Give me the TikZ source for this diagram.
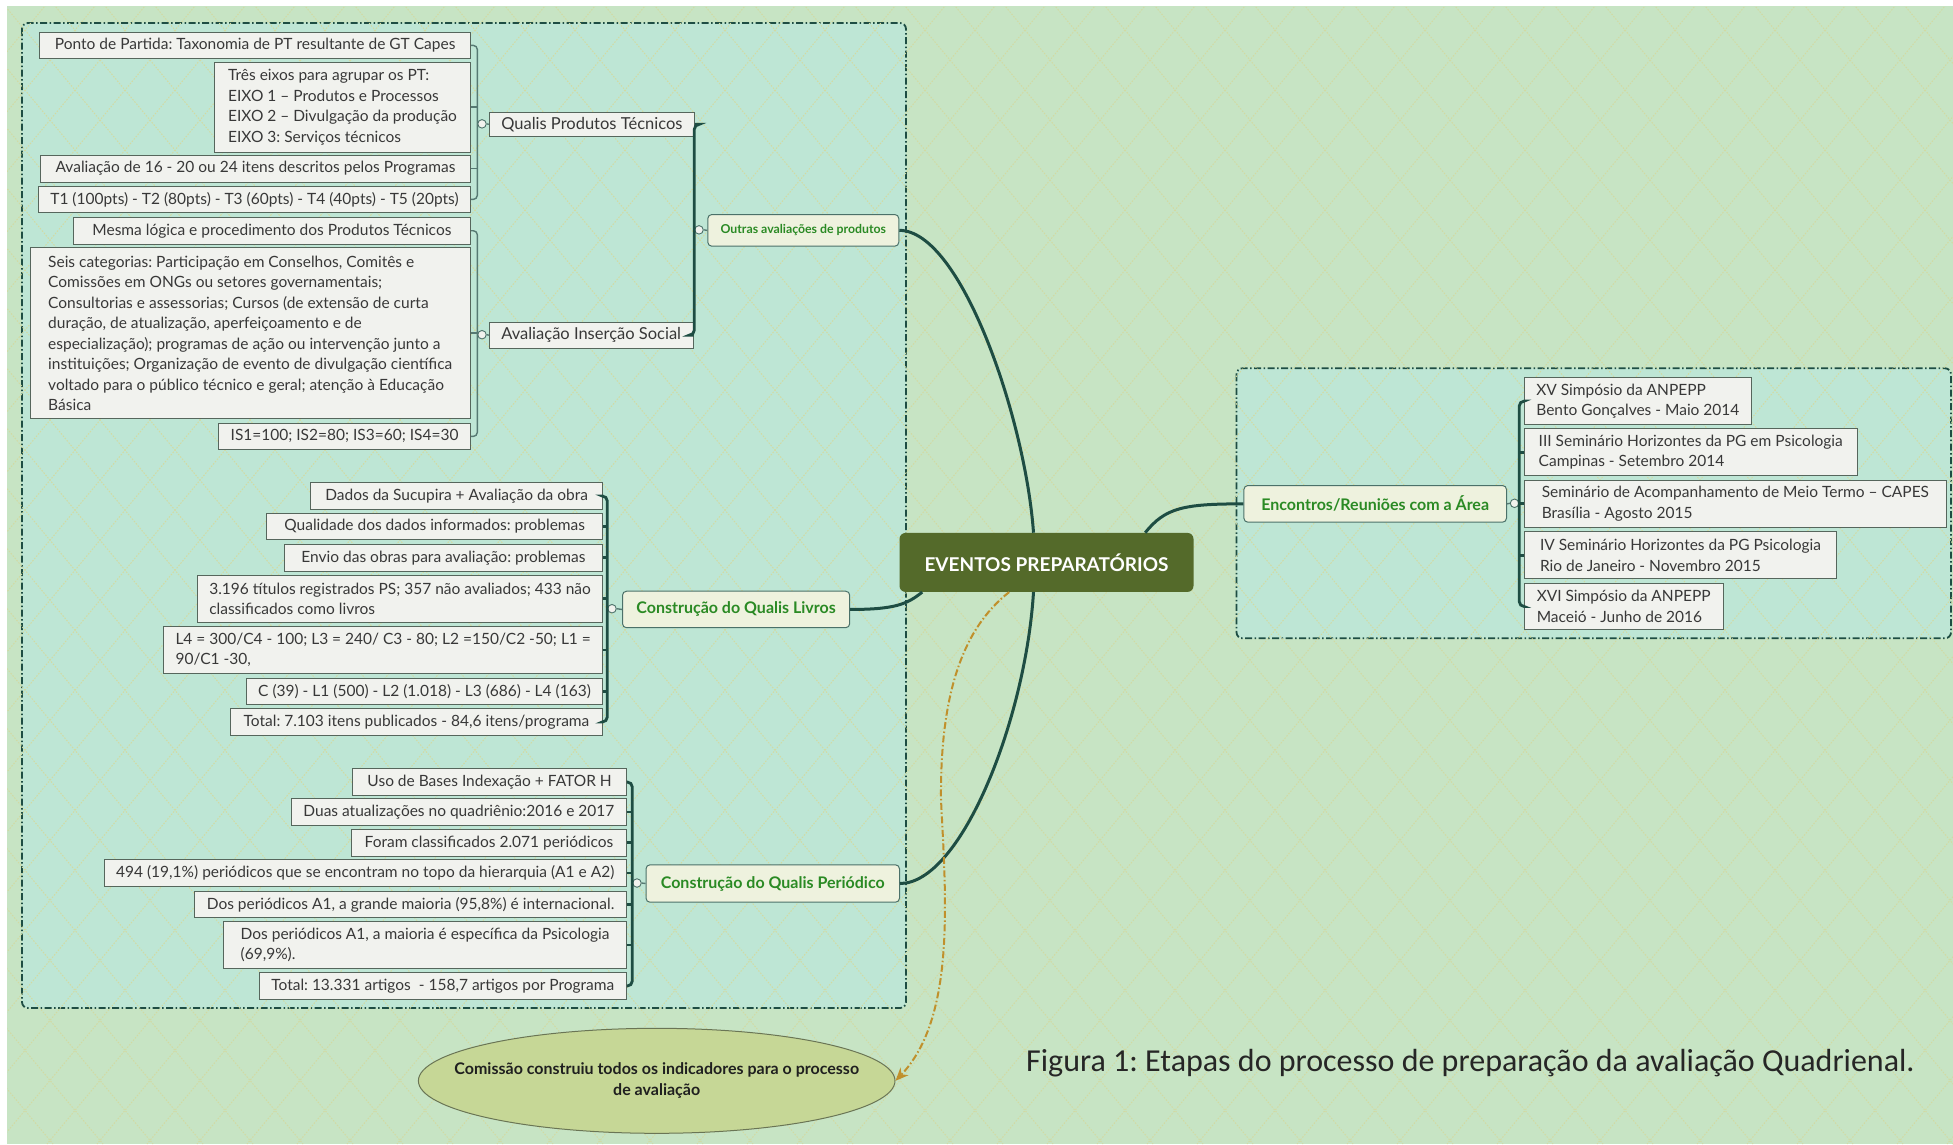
\documentclass[tikz,border=0pt]{standalone}
\usepackage{fontspec}
\setmainfont{Lato}
\newfontfamily\capfont{Carlito}
\usetikzlibrary{shapes.geometric, arrows.meta}

\definecolor{bggreen}{HTML}{C7E4C4}
\definecolor{boxmint}{HTML}{BEE6D5}
\definecolor{weaveclr}{HTML}{D2DAA2}
\definecolor{trunk}{HTML}{1E4D43}
\definecolor{olive}{HTML}{546A2A}
\definecolor{leafgray}{HTML}{F1F2EE}
\definecolor{leafedge}{HTML}{56665C}
\definecolor{topicfill}{HTML}{EEF2DE}
\definecolor{topicgreen}{HTML}{2A8A24}
\definecolor{ochre}{HTML}{C0902C}
\definecolor{ellfill}{HTML}{C6D796}

\begin{document}
\frenchspacing
\begin{tikzpicture}[x=1pt, y=-1pt,
        leaf/.style={draw=leafedge, fill=leafgray, line width=0.9pt, text=black!78, font=\fontsize{15.5}{20.5}\selectfont, inner xsep=12pt, inner ysep=0pt, minimum height=26.5pt, anchor=north east},
        leafr/.style={leaf, anchor=north west, align=left, minimum height=46.7pt},
        branch/.style={leaf, font=\fontsize{16.5}{20}\selectfont, anchor=north west, minimum width=201pt},
        topic/.style={draw=trunk!80, fill=topicfill, line width=1pt, rounded corners=4pt, text=topicgreen, font=\bfseries\fontsize{16}{20}\selectfont, inner xsep=8pt, minimum height=36.5pt, anchor=north west},
        group/.style={draw=trunk, line width=1.8pt, fill=boxmint, rounded corners=6pt, dash pattern=on 7pt off 2.5pt on 1.5pt off 2.5pt},
        weave/.style={draw=weaveclr, line width=1pt, dash pattern=on 1.5pt off 1.5pt},
        knob/.style={circle, draw=trunk!80, fill=leafgray, line width=0.9pt, inner sep=0pt, minimum size=8.5pt},
        twig/.style={draw=trunk!75, line width=1.4pt, rounded corners=4pt},
        bough/.style={draw=trunk, line width=2.8pt, rounded corners=5pt},
        limb/.style={draw=trunk, line width=3pt},
        ]

    \useasboundingbox [fill=white] (0, 0) rectangle (1953, 1144);
    \fill [bggreen] (7, 6) rectangle (1953, 1144);

    \path [group] (22, 23) rectangle (906, 1008);
    \path [group] (1236.5, 368.3) rectangle (1951, 638.3);

    \begin{scope}
        \clip (7, 6) rectangle (1953, 1144);
        \foreach \k in {-20, ..., 60} {
            \draw [weave] (50*\k, 0) -- ++(953, 1144);
            \draw [weave] (50*\k, 0) -- ++(-953, 1144);
        }
    \end{scope}

    \node (root) at (899.3, 532.7) [anchor=north west, fill=olive, rounded corners=6pt, minimum width=294pt, minimum height=59pt, text=white, font=\bfseries\fontsize{19}{22}\selectfont] {EVENTOS PREPARATÓRIOS};

    \node (outras) at (707.3, 214) [topic, minimum width=191pt, minimum height=31.7pt, font=\bfseries\fontsize{12.3}{14}\selectfont] {Outras avaliações de produtos};
    \node (livros) at (622, 590.7) [topic, minimum width=227.2pt] {Construção do Qualis Livros};
    \node (period) at (645.5, 864.3) [topic, minimum width=253.5pt, minimum height=37.4pt] {Construção do Qualis Periódico};
    \node (enc) at (1243.4, 485) [topic, minimum width=262.6pt, minimum height=36.7pt] {Encontros/Reuniões com a Área};

    \node (qpt) at (488.8, 111.7) [branch, minimum height=24.3pt] {Qualis Produtos Técnicos};
    \node (ins) at (488.8, 321.7) [branch, minimum height=26pt] {Avaliação Inserção Social};

    \node (ponto) at (471, 31.7) [leaf, minimum width=430.8pt] {Ponto de Partida: Taxonomia de PT resultante de GT Capes};
    \node (tres) at (471, 61.7) [leaf, minimum width=256pt, minimum height=90pt, align=left] {Três eixos para agrupar os PT:\\EIXO 1 – Produtos e Processos\\EIXO 2 – Divulgação da produção\\EIXO 3: Serviços técnicos};
    \node (av16) at (471, 155) [leaf, minimum width=430pt] {Avaliação de 16 - 20 ou 24 itens descritos pelos Programas};
    \node (tone) at (471, 185.7) [leaf, minimum width=422.8pt] {T1 (100pts) - T2 (80pts) - T3 (60pts) - T4 (40pts) - T5 (20pts)};
    \node (mesma) at (471, 217) [leaf, minimum width=397.3pt] {Mesma lógica e procedimento dos Produtos Técnicos};
    \node (seis) at (471, 247) [leaf, minimum width=440.6pt, minimum height=171.3pt, align=left] {Seis categorias: Participação em Conselhos, Comitês e\\Comissões em ONGs ou setores governamentais;\\Consultorias e assessorias; Cursos (de extensão de curta\\duração, de atualização, aperfeiçoamento e de\\especialização); programas de ação ou intervenção junto a\\instituições; Organização de evento de divulgação científica\\voltado para o público técnico e geral; atenção à Educação\\Básica};
    \node (isone) at (471, 422.7) [leaf, minimum width=232.2pt] {IS1=100; IS2=80; IS3=60; IS4=30};

    \node (dados) at (603.3, 482.3) [leaf, minimum width=292.3pt] {Dados da Sucupira + Avaliação da obra};
    \node (qualid) at (603.3, 512.7) [leaf, minimum width=336.3pt] {Qualidade dos dados informados: problemas};
    \node (envio) at (603.3, 544) [leaf, minimum width=318.7pt] {Envio das obras para avaliação: problemas};
    \node (tit) at (603.3, 575) [leaf, minimum width=403.8pt, minimum height=46.7pt, align=left] {3.196 títulos registrados PS; 357 não avaliados; 433 não\\classificados como livros};
    \node (lq) at (603.3, 625.7) [leaf, minimum width=425.5pt, minimum height=47.6pt, align=left] {L4 = 300/C4 - 100; L3 = 240/ C3 - 80; L2 =150/C2 -50; L1 =\\90/C1 -30,};
    \node (cnum) at (603.3, 677.7) [leaf, minimum width=344.5pt] {C (39) - L1 (500) - L2 (1.018) - L3 (686) - L4 (163)};
    \node (totl) at (603.3, 708.3) [leaf, minimum width=372.7pt] {Total: 7.103 itens publicados - 84,6 itens/programa};

    \node (uso) at (626.8, 768.3) [leaf, minimum width=273.5pt] {Uso de Bases Indexação + FATOR H};
    \node (duas) at (626.8, 798.3) [leaf, minimum width=332.2pt] {Duas atualizações no quadriênio:2016 e 2017};
    \node (foram) at (626.8, 829) [leaf, minimum width=274.8pt] {Foram classificados 2.071 periódicos};
    \node (qtop) at (626.8, 859.3) [leaf, minimum width=517.1pt] {494 (19,1\%) periódicos que se encontram no topo da hierarquia (A1 e A2)};
    \node (grande) at (626.8, 890.7) [leaf, minimum width=430.2pt] {Dos periódicos A1, a grande maioria (95,8\%) é internacional.};
    \node (maioria) at (626.8, 920.7) [leaf, minimum width=402.6pt, minimum height=47.6pt, align=left] {Dos periódicos A1, a maioria é específica da Psicologia\\(69,9\%).};
    \node (totp) at (626.8, 972.3) [leaf, minimum width=358pt] {Total: 13.331 artigos \ - 158,7 artigos por Programa};

    \node (xv) at (1523.9, 377.3) [leafr, minimum width=226.7pt] {XV Simpósio da ANPEPP\\Bento Gonçalves - Maio 2014};
    \node (iii) at (1523.9, 428.3) [leafr, minimum width=332.8pt] {III Seminário Horizontes da PG em Psicologia\\Campinas - Setembro 2014};
    \node (smt) at (1523.9, 480) [leafr, minimum width=422.1pt] {Seminário de Acompanhamento de Meio Termo – CAPES\\Brasília - Agosto 2015};
    \node (iv) at (1523.9, 531) [leafr, minimum width=312.3pt, minimum height=47.3pt] {IV Seminário Horizontes da PG Psicologia\\Rio de Janeiro - Novembro 2015};
    \node (xvi) at (1523.9, 582.7) [leafr, minimum width=198.7pt] {XVI Simpósio da ANPEPP\\Maceió - Junho de 2016};

    \node (elli) at (656.7, 1080.8) [ellipse, draw=olive!50!gray, fill=ellfill, line width=1pt, minimum width=476.6pt, minimum height=105pt, inner xsep=-45pt, inner ysep=0pt, align=center, text=black!88, font=\bfseries\fontsize{16}{21}\selectfont] {Comissão construiu todos os indicadores para o processo\\de avaliação};

    \node (caption) at (1026, 1071) [anchor=base west, inner sep=0pt, text=black!85, font=\capfont\fontsize{32}{36}\selectfont] {Figura 1: Etapas do processo de preparação da avaliação Quadrienal.};

    \node (kpt) at (482, 123.85) [knob] {};
    \node (kins) at (482, 334.7) [knob] {};
    \node (kout) at (699, 229.85) [knob] {};
    \node (kliv) at (612, 608.7) [knob] {};
    \node (kper) at (637, 883) [knob] {};
    \node (kenc) at (1514.5, 503.3) [knob] {};

    \draw [twig] (ponto.east) -- (ponto.east -| kpt.west) -- (tone.east -| kpt.west) -- (tone.east);
    \foreach \n in {tres, av16}
        \draw [twig] (\n.east) -- (\n.east -| kpt.west);
    \draw [twig] (kpt.east) -- (qpt.west);

    \draw [twig] (mesma.east) -- (mesma.east -| kins.west) -- (isone.east -| kins.west) -- (isone.east);
    \draw [twig] (seis.east) -- (seis.east -| kins.west);
    \draw [twig] (kins.east) -- (ins.west);

    \draw [bough] (qpt.east) -- (qpt.east -| kout.west) -- (ins.east -| kout.west) -- (ins.east);
    \draw [twig] (kout.east) -- (outras.west);

    \draw [bough] (dados.east) -- (dados.east -| kliv.west) -- (totl.east -| kliv.west) -- (totl.east);
    \foreach \n in {qualid, envio, tit, lq, cnum}
        \draw [bough] (\n.east) -- (\n.east -| kliv.west);
    \draw [twig] (kliv.east) -- (livros.west);

    \draw [bough] (uso.east) -- (uso.east -| kper.west) -- (totp.east -| kper.west) -- (totp.east);
    \foreach \n in {duas, foram, qtop, grande, maioria}
        \draw [bough] (\n.east) -- (\n.east -| kper.west);
    \draw [twig] (kper.east) -- (period.west);

    \draw [bough] (xv.west) -- (xv.west -| kenc.east) -- (xvi.west -| kenc.east) -- (xvi.west);
    \foreach \n in {iii, smt, iv}
        \draw [bough] (\n.west) -- (\n.west -| kenc.east);
    \draw [twig] (kenc.west) -- (enc.east);

    \draw [limb] (outras.east) .. controls +(62, 0) and +(-8, -113) .. ([xshift=-13pt]root.north);
    \draw [limb] ([xshift=-13pt]root.south) .. controls +(-8, 128) and +(61, 0) .. (period.east);
    \draw [limb] ([xshift=-124.3pt]root.south) .. controls +(-15, 12) and +(45, 0) .. (livros.east);
    \draw [limb] ([xshift=98.7pt]root.north) .. controls +(20, -25) and +(-60, 0) .. (enc.west);

    \draw [ochre, line width=2pt, dash pattern=on 7pt off 2.5pt on 1.5pt off 2.5pt, -{Stealth[length=13pt, width=11pt]}]
        ([xshift=-37.3pt]root.south) .. controls +(-49, 38) and +(-1, -100) .. (941, 800)
        .. controls +(5, 100) and +(60, -63) .. (elli.east);
\end{tikzpicture}
\end{document}
